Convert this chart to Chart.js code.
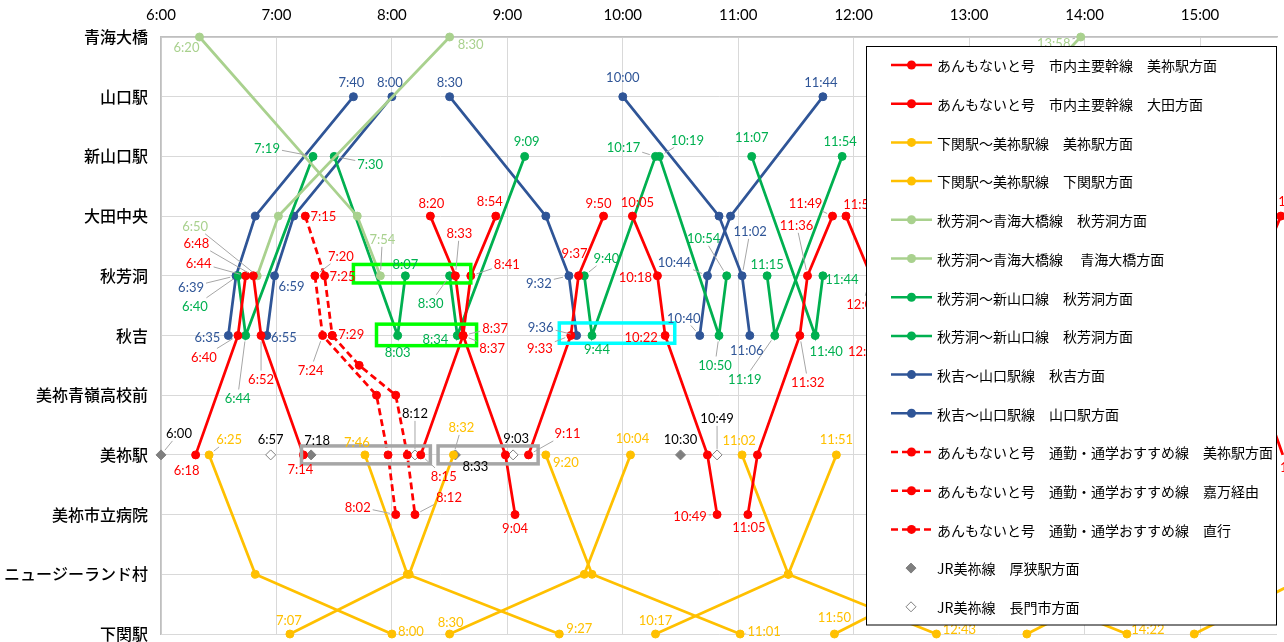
<!DOCTYPE html>
<html>
<head>
<meta charset="utf-8">
<script src="https://cdn.jsdelivr.net/npm/chart.js@4.4.1/dist/chart.umd.min.js"></script>
<style>
  html, body { margin: 0; background: #fff; }
  #wrap { width: 1284px; height: 642px; }
</style>
</head>
<body>
<div id="wrap"><canvas id="diagram"></canvas></div>
<script>
// stations, top to bottom (y = index)
const stations = ['青海大橋','山口駅','新山口駅','大田中央','秋芳洞','秋吉','美祢青嶺高校前','美祢駅','美祢市立病院','ニュージーランド村','下関駅'];
const hourLabels = ['6:00','7:00','8:00','9:00','10:00','11:00','12:00','13:00','14:00','15:00'];

// あんもないと号 市内主要幹線
const redMineStops = [4,5,7,null,3,4,5,7,8,null,3,4,5,7,8,null,3,4,5,7,8,null,3,4,5,7];
const redMineTimes = ['6:48','6:52','7:14',null,'8:20','8:33','8:37','8:59','9:04',null,'10:05','10:18','10:22','10:44','10:49',null,'11:56','12:09','12:13','12:35','12:40',null,'15:04','15:17','15:21','15:43'];
const redOtaStops = [7,5,4,null,7,5,4,3,null,7,5,4,3,null,8,7,5,4,3,null,7,5,4,3];
const redOtaTimes = ['6:18','6:40','6:44',null,'8:15','8:37','8:41','8:54',null,'9:11','9:33','9:37','9:50',null,'11:05','11:10','11:32','11:36','11:49',null,'15:03','15:25','15:29','15:42'];

// 下関駅～美祢駅線
const shimoMineStops = [10,9,7,null,10,9,7,null,10,9,7,null,10,9,7,null,10,9,7,null,10,9];
const shimoMineTimes = ['7:07','8:09','8:32',null,'8:30','9:40','10:04',null,'10:17','11:26','11:51',null,'11:50','12:51','13:15',null,'13:30','14:31','14:55',null,'14:57','15:58'];
const shimoShimoStops = [7,9,10,null,7,9,10,null,7,9,10,null,7,9,10,null,7,9,10];
const shimoShimoTimes = ['6:25','6:49','8:00',null,'7:46','8:08','9:27',null,'9:20','9:44','11:01',null,'11:02','11:26','12:43',null,'12:41','13:05','14:22'];

// 秋芳洞～青海大橋線
const seiDownStops = [0,3,4];
const seiDownTimes = ['6:20','7:42','7:54'];
const seiUpStops = [4,3,0,null,4,3,0];
const seiUpTimes = ['6:50','7:01','8:30',null,'12:18','12:29','13:58'];

// 秋芳洞～新山口線
const shinAStops = [2,5,4,null,2,5,4,null,2,5,4];
const shinATimes = ['7:30','8:03','8:07',null,'10:19','10:50','10:54',null,'11:07','11:40','11:44'];
const shinBStops = [4,5,2,null,4,5,2,null,4,5,2,null,4,5,2];
const shinBTimes = ['6:40','6:44','7:19',null,'8:30','8:34','9:09',null,'9:40','9:44','10:17',null,'11:15','11:19','11:54'];

// 秋吉～山口駅線
const yamaDownStops = [1,3,4,5,null,1,3,4,5];
const yamaDownTimes = ['8:30','9:20','9:32','9:36',null,'10:00','10:50','11:02','11:06'];
const yamaUpStops = [5,4,3,1,null,5,4,3,1,null,5,4,3,1];
const yamaUpTimes = ['6:35','6:39','6:49','7:40',null,'6:55','6:59','7:09','8:00',null,'10:40','10:44','10:56','11:44'];

// あんもないと号 通勤・通学おすすめ線
const commMineStops = [3,4,5];
const commMineTimes = ['7:15','7:25','7:29'];
const commKamanStops = [5,5.5,6,7,8];
const commKamanTimes = ['7:29','7:43','8:02','8:08','8:12'];
const commDirectStops = [4,5,6,7,8];
const commDirectTimes = ['7:20','7:24','7:52','7:58','8:02'];

// JR美祢線 (美祢駅)
const jrAsaTimes = ['6:00','7:18','8:33','10:30'];
const jrNagatoTimes = ['6:57','8:12','9:03','10:49'];

// label offsets (text centre relative to point, px); null = no label
const redMineLbl = [[-57,-33],[0,43],[-3,14],null,[1,-13],[4,-43],[29,12],null,[0,13],null,[5,-14],[-22,1],[-24,1],null,[-27,1],null,[14,-12],[-8,28],[-14,15],null,null,null,null,null,null,[14,12]];
const redOtaLbl = [[-9,15],[-34,21],[-47,-13],null,[23,21],[32,-8],[36,-12],[-6,-15],null,[39,-22],[-31,12],[-4,-23],[-5,-13],null,[1,12],null,[8,46],[-11,-51],[-27,-13],null,null,null,null,[14,-15]];
const shimoMineLbl = [[-1,-14],null,[8,-28],null,[1,-12],null,[2,-17],null,[0,-14],null,[0,-16],null,[0,-17],null,null,null,null,null,null,null,null,null];
const shimoShimoLbl = [[20,-16],null,[19,-3],null,[-8,-13],null,[20,-6],null,[20,7],null,[24,-3],null,[-3,-15],null,[23,-5],null,null,null,[21,-5]];
const seiDownLbl = [[-13,10],null,[2,-37]];
const seiUpLbl = [[-62,-50],null,[21,7],null,null,null,[-27,6]];
const shinALbl = [[36,7],[0,16],[0,-12],null,[28,-17],[-4,29],[-23,-38],null,[0,-20],[11,15],[19,3]];
const shinBLbl = [[-43,30],[-8,62],[-46,-9],null,[-19,27],[-22,3],[2,-16],null,[22,-18],[5,13],[-32,-10],null,[0,-12],[-30,43],[-2,-16]];
const yamaDownLbl = [[0,-15],null,[-30,7],[-36,-9],null,[0,-20],null,[8,-45],[-3,14]];
const yamaUpLbl = [[-21,1],[-45,11],null,[-2,-15],null,[17,1],[17,10],null,[-2,-15],null,[-16,-18],[-33,-14],null,[-2,-15]];
const commMineLbl = [[18,0],[18,0],[19,-2]];
const commKamanLbl = [null,null,null,null,[34,-18]];
const commDirectLbl = [[26,-20],[-12,34],null,null,[-38,-8]];
const jrAsaLbl = [[18,-22],[6,-15],[20,11],[0,-16]];
const jrNagatoLbl = [[0,-16],[0,-42],[3,-17],[0,-37]];

// highlight boxes drawn on the diagram
const boxes = [
  { from: '7:13', to: '8:20', top: 6.85, bottom: 7.15, color: '#A6A6A6' },
  { from: '8:24', to: '9:16', top: 6.85, bottom: 7.15, color: '#A6A6A6' },
  { from: '7:40', to: '8:41', top: 3.81, bottom: 4.12, color: '#00FF00' },
  { from: '7:52', to: '8:44', top: 4.81, bottom: 5.17, color: '#00FF00' },
  { from: '9:27', to: '10:27', top: 4.79, bottom: 5.13, color: '#00FFFF' }
];

const RED = '#FF0000', ORANGE = '#FFC000', LGREEN = '#A9D18E', GREEN = '#00B050', BLUE = '#2F5597', GRAY = '#7F7F7F';

function toMin(s) {
  const p = s.split(':');
  return +p[0] * 60 + +p[1];
}

function points(stops, times) {
  return times.map((t, i) => t ? { x: toMin(t), y: stops[i] } : { x: null, y: null });
}

function lineSet(label, color, stops, times, lbl, dashed) {
  return {
    label: label,
    data: points(stops, times),
    borderColor: color,
    backgroundColor: color,
    borderWidth: 2.75,
    borderDash: dashed ? [7, 4] : [],
    pointRadius: 4,
    pointBorderWidth: 1,
    pointBackgroundColor: color,
    pointBorderColor: color,
    showLine: true,
    spanGaps: false,
    clip: false,
    timeTexts: times,
    labelOffsets: lbl,
    labelColor: color
  };
}

function jrSet(label, times, lbl, open) {
  return {
    label: label,
    data: points(times.map(() => 7), times),
    showLine: false,
    pointStyle: 'rectRot',
    pointRadius: 5,
    pointBorderWidth: 1,
    pointBackgroundColor: open ? '#FFFFFF' : GRAY,
    pointBorderColor: GRAY,
    borderColor: GRAY,
    backgroundColor: open ? '#FFFFFF' : GRAY,
    clip: false,
    timeTexts: times,
    labelOffsets: lbl,
    labelColor: '#000000',
    marker: open ? 'open' : 'filled'
  };
}

const datasets = [
  lineSet('あんもないと号　市内主要幹線　美祢駅方面', RED, redMineStops, redMineTimes, redMineLbl),
  lineSet('あんもないと号　市内主要幹線　大田方面', RED, redOtaStops, redOtaTimes, redOtaLbl),
  lineSet('下関駅～美祢駅線　美祢駅方面', ORANGE, shimoMineStops, shimoMineTimes, shimoMineLbl),
  lineSet('下関駅～美祢駅線　下関駅方面', ORANGE, shimoShimoStops, shimoShimoTimes, shimoShimoLbl),
  lineSet('秋芳洞～青海大橋線　秋芳洞方面', LGREEN, seiDownStops, seiDownTimes, seiDownLbl),
  lineSet('秋芳洞～青海大橋線　 青海大橋方面', LGREEN, seiUpStops, seiUpTimes, seiUpLbl),
  lineSet('秋芳洞～新山口線　秋芳洞方面', GREEN, shinAStops, shinATimes, shinALbl),
  lineSet('秋芳洞～新山口線　秋芳洞方面', GREEN, shinBStops, shinBTimes, shinBLbl),
  lineSet('秋吉～山口駅線　秋吉方面', BLUE, yamaDownStops, yamaDownTimes, yamaDownLbl),
  lineSet('秋吉～山口駅線　山口駅方面', BLUE, yamaUpStops, yamaUpTimes, yamaUpLbl),
  lineSet('あんもないと号　通勤・通学おすすめ線　美祢駅方面', RED, commMineStops, commMineTimes, commMineLbl, true),
  lineSet('あんもないと号　通勤・通学おすすめ線　嘉万経由', RED, commKamanStops, commKamanTimes, commKamanLbl, true),
  lineSet('あんもないと号　通勤・通学おすすめ線　直行', RED, commDirectStops, commDirectTimes, commDirectLbl, true),
  jrSet('JR美祢線　厚狭駅方面', jrAsaTimes, jrAsaLbl, false),
  jrSet('JR美祢線　長門市方面', jrNagatoTimes, jrNagatoLbl, true)
];

const diagramPlugin = {
  id: 'diagramExtras',
  afterDatasetsDraw(chart) {
    const ctx = chart.ctx;
    const xs = chart.scales.x, ys = chart.scales.y;
    ctx.save();
    // boxes
    boxes.forEach(b => {
      const l = xs.getPixelForValue(toMin(b.from)), r = xs.getPixelForValue(toMin(b.to));
      const t = ys.getPixelForValue(b.top), bt = ys.getPixelForValue(b.bottom);
      ctx.strokeStyle = b.color;
      ctx.lineWidth = 3.5;
      ctx.strokeRect(l, t, r - l, bt - t);
    });
    // time labels
    ctx.font = '13px Lato';
    ctx.textAlign = 'center';
    ctx.textBaseline = 'middle';
    chart.data.datasets.forEach((ds, di) => {
      const meta = chart.getDatasetMeta(di);
      ds.labelOffsets.forEach((off, i) => {
        if (!off || !ds.timeTexts[i]) return;
        const pt = meta.data[i];
        const text = ds.timeTexts[i];
        const tx = pt.x + off[0], ty = pt.y + off[1];
        const hw = ctx.measureText(text).width / 2 + 2, hh = 8;
        const d = Math.hypot(off[0], off[1]);
        if (d > 24) {
          const s = Math.min(off[0] ? hw / Math.abs(off[0]) : 99, off[1] ? hh / Math.abs(off[1]) : 99);
          const ex = tx - off[0] * s, ey = ty - off[1] * s;
          const sx = pt.x + off[0] / d * 6, sy = pt.y + off[1] / d * 6;
          ctx.strokeStyle = '#A6A6A6';
          ctx.lineWidth = 1;
          ctx.setLineDash([]);
          ctx.beginPath();
          ctx.moveTo(sx, sy);
          ctx.lineTo(ex, ey);
          ctx.stroke();
        }
        ctx.fillStyle = ds.labelColor;
        ctx.fillText(text, tx, ty + 1);
      });
    });
    ctx.restore();
  },
  afterDraw(chart) {
    const ctx = chart.ctx;
    ctx.save();
    ctx.fillStyle = '#FFFFFF';
    ctx.fillRect(866.5, 46.5, 410, 578.5);
    ctx.strokeStyle = '#000000';
    ctx.lineWidth = 1;
    ctx.strokeRect(866.5, 46.5, 410, 578.5);
    ctx.font = '14px "Noto Sans CJK JP"';
    ctx.textAlign = 'left';
    ctx.textBaseline = 'middle';
    chart.data.datasets.forEach((ds, i) => {
      const y = 65 + i * 38.7;
      if (ds.marker) {
        ctx.beginPath();
        ctx.moveTo(911, y - 5); ctx.lineTo(916, y); ctx.lineTo(911, y + 5); ctx.lineTo(906, y);
        ctx.closePath();
        ctx.fillStyle = ds.pointBackgroundColor;
        ctx.fill();
        ctx.strokeStyle = GRAY;
        ctx.lineWidth = 1;
        ctx.stroke();
      } else {
        ctx.strokeStyle = ds.borderColor;
        ctx.lineWidth = 2.5;
        ctx.setLineDash(ds.borderDash);
        ctx.beginPath();
        ctx.moveTo(891, y); ctx.lineTo(932, y);
        ctx.stroke();
        ctx.setLineDash([]);
        ctx.fillStyle = ds.borderColor;
        ctx.beginPath();
        ctx.arc(911.5, y, 4.5, 0, Math.PI * 2);
        ctx.fill();
      }
      ctx.fillStyle = '#000000';
      ctx.fillText(ds.label, 937, y + 1);
    });
    ctx.restore();
  }
};

new Chart(document.getElementById('diagram'), {
  type: 'scatter',
  data: { datasets: datasets },
  plugins: [diagramPlugin],
  options: {
    responsive: true,
    maintainAspectRatio: false,
    animation: false,
    events: [],
    layout: { padding: { top: 0, right: 7, bottom: 8, left: 0 } },
    plugins: { legend: { display: false }, tooltip: { enabled: false } },
    scales: {
      x: {
        type: 'linear',
        position: 'top',
        min: 360,
        max: 940,
        afterBuildTicks: axis => { axis.ticks = hourLabels.map(h => ({ value: toMin(h) })); },
        afterFit: axis => { axis.height = 37; axis.paddingLeft = 0; axis.paddingRight = 0; },
        ticks: {
          autoSkip: false,
          maxRotation: 0,
          padding: 13,
          color: '#000000',
          font: { family: 'Lato', size: 15 },
          callback: (v, i) => hourLabels[i]
        },
        grid: { color: '#D9D9D9', lineWidth: 1, drawTicks: false },
        border: { color: '#BFBFBF', width: 1.5 }
      },
      y: {
        type: 'linear',
        reverse: true,
        min: 0,
        max: 10,
        afterBuildTicks: axis => { axis.ticks = stations.map((s, i) => ({ value: i })); },
        afterFit: axis => { axis.width = 161; axis.paddingTop = 0; axis.paddingBottom = 0; },
        ticks: {
          autoSkip: false,
          padding: 13,
          color: '#000000',
          font: { family: '"Noto Sans CJK JP"', size: 16, weight: '500' },
          callback: (v, i) => stations[i]
        },
        grid: { color: '#D9D9D9', lineWidth: 1, drawTicks: false },
        border: { color: '#BFBFBF', width: 1.5 }
      }
    }
  }
});
</script>
</body>
</html>
